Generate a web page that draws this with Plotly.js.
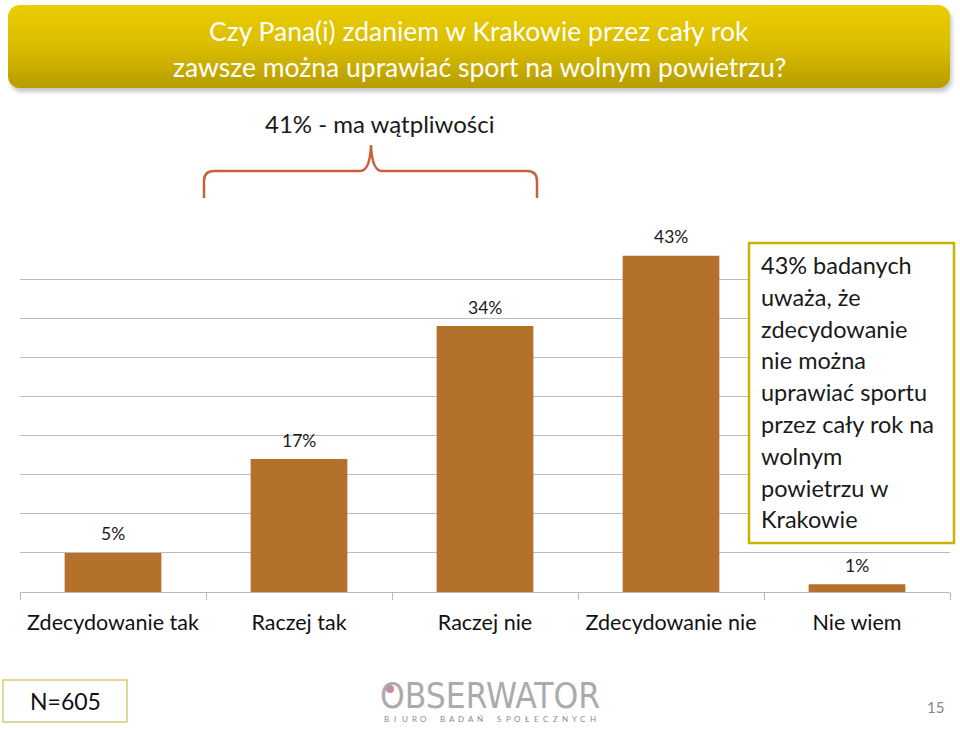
<!DOCTYPE html>
<html>
<head>
<meta charset="utf-8">
<script src="https://cdn.plot.ly/plotly-3.0.1.min.js"></script>
<style>html,body{margin:0;padding:0;background:#fff;}#chart{width:960px;height:729px;}</style>
</head>
<body>
<div id="chart"></div>
<script>
// ---- data ----
const categories = ["Zdecydowanie tak", "Raczej tak", "Raczej nie", "Zdecydowanie nie", "Nie wiem"];
const values = [5, 17, 34, 43, 1];
const valueLabels = ["5%", "17%", "34%", "43%", "1%"];
const titleLines = ["Czy Pana(i) zdaniem w Krakowie przez cały rok", "zawsze można uprawiać sport na wolnym powietrzu?"];
const bracketLabel = "41% - ma wątpliwości";
const noteLines = ["43% badanych", "uważa, że", "zdecydowanie", "nie można", "uprawiać sportu", "przez cały rok na", "wolnym", "powietrzu w", "Krakowie"];
const sampleLabel = "N=605";
const logoText = "OBSERWATOR";
const logoSub = "BIURO BADAŃ SPOŁECZNYCH";
const pageNumber = "15";

// ---- layout geometry (pixels) ----
const W = 960, H = 729;
const L = 20, R = 10, T = 240, B = 137;
const pw = W - L - R, ph = H - T - B;
const X = p => (p - L) / pw;
const Y = p => (H - B - p) / ph;
const F = "Lato, 'Open Sans', sans-serif";

const trace = {
  type: "bar",
  x: categories,
  y: values,
  marker: { color: "#B3712B", line: { width: 0 } },
  hoverinfo: "skip"
};

const annotations = [];
values.forEach((v, i) => {
  annotations.push({ x: categories[i], y: v, xref: "x", yref: "y", text: valueLabels[i], showarrow: false,
    yshift: 19, font: { family: F, size: 17.5, color: "#1a1a1a" } });
});
titleLines.forEach((t, i) => {
  annotations.push({ xref: "paper", yref: "paper", x: X(479), y: Y(31 + i * 36), text: t, showarrow: false,
    xanchor: "center", yanchor: "middle", font: { family: F, size: 26.5, color: "#ffffff" } });
});
annotations.push({ xref: "paper", yref: "paper", x: X(379), y: Y(124), text: bracketLabel, showarrow: false,
  xanchor: "center", yanchor: "middle", font: { family: F, size: 24, color: "#1a1a1a" } });
noteLines.forEach((t, i) => {
  annotations.push({ xref: "paper", yref: "paper", x: X(759), y: Y(265 + i * 31.8), text: t, showarrow: false,
    xanchor: "left", yanchor: "middle", font: { family: F, size: 23.5, color: "#1a1a1a" } });
});
annotations.push({ xref: "paper", yref: "paper", x: X(65), y: Y(701), text: sampleLabel, showarrow: false,
  xanchor: "center", yanchor: "middle", font: { family: F, size: 23, color: "#111" } });
annotations.push({ xref: "paper", yref: "paper", x: X(490), y: Y(696), text: logoText, showarrow: false,
  xanchor: "center", yanchor: "middle", font: { family: "'Liberation Sans Narrow', 'DejaVu Sans Condensed', sans-serif", size: 35, color: "#ababab" } });
// letter-spaced subtitle of the logo, one evenly spaced glyph per slot
const subChars = logoSub.split("");
subChars.forEach((c, i) => {
  if (c === " ") return;
  annotations.push({ xref: "paper", yref: "paper", x: X(386 + i * 9.4), y: Y(719), text: c, showarrow: false,
    xanchor: "center", yanchor: "middle", borderpad: 0, borderwidth: 0,
    font: { family: F, size: 8, color: "#8a8a8a" } });
});
annotations.push({ xref: "paper", yref: "paper", x: X(935), y: Y(707), text: pageNumber, showarrow: false,
  xanchor: "center", yanchor: "middle", font: { family: F, size: 15, color: "#888" } });

const bracketPath = `M${X(204)},${Y(198)} L${X(204)},${Y(181)} Q${X(204)},${Y(171)} ${X(214)},${Y(171)} ` +
  `L${X(360)},${Y(171)} Q${X(370)},${Y(171)} ${X(371)},${Y(145)} Q${X(372)},${Y(171)} ${X(382)},${Y(171)} ` +
  `L${X(527)},${Y(171)} Q${X(537)},${Y(171)} ${X(537)},${Y(181)} L${X(537)},${Y(198)}`;

const shapes = [
  { type: "path", xref: "paper", yref: "paper", path: bracketPath, line: { color: "#C9603C", width: 2.5 } },
  { type: "rect", xref: "paper", yref: "paper", x0: X(749), x1: X(954), y0: Y(243), y1: Y(543), fillcolor: "#ffffff", line: { color: "#C8B400", width: 2.5 }, layer: "above" },
  { type: "rect", xref: "paper", yref: "paper", x0: X(3), x1: X(127), y0: Y(680), y1: Y(722), fillcolor: "rgba(0,0,0,0)", line: { color: "#D6CB78", width: 1.5 } },
  { type: "circle", xref: "paper", yref: "paper", x0: X(386), x1: X(394), y0: Y(685), y1: Y(693), fillcolor: "#C98A9A", line: { width: 0 } }
];

// gradient fill + soft shadow for the title panel (inline SVG, no network)
const gradSvg = `<svg xmlns="http://www.w3.org/2000/svg" width="948" height="90" viewBox="0 0 948 90">` +
  `<defs><linearGradient id="g" x1="0" y1="0" x2="0" y2="1"><stop offset="0" stop-color="#EBCD00"/><stop offset="0.5" stop-color="#DABD00"/><stop offset="1" stop-color="#B69C00"/></linearGradient>` +
  `<filter id="b" x="-5%" y="-20%" width="110%" height="140%"><feGaussianBlur stdDeviation="2"/></filter></defs>` +
  `<rect x="2" y="4" width="942" height="83" rx="12" ry="12" fill="#000" opacity="0.22" filter="url(#b)"/>` +
  `<rect x="0" y="0" width="942" height="83" rx="12" ry="12" fill="url(#g)"/></svg>`;
const gradSrc = "data:image/svg+xml;base64," + btoa(gradSvg);

const layout = {
  width: W, height: H,
  margin: { l: L, r: R, t: T, b: B, pad: 0 },
  paper_bgcolor: "#ffffff", plot_bgcolor: "#ffffff",
  showlegend: false, hovermode: false,
  bargap: 0.48,
  xaxis: {
    type: "category", showgrid: false, showline: true, linecolor: "#b8b8b8", linewidth: 1,
    ticks: "outside", tickson: "boundaries", ticklen: 7, tickcolor: "#b8b8b8",
    tickfont: { family: F, size: 21.5, color: "#111" }, ticklabelstandoff: 11, fixedrange: true
  },
  yaxis: {
    range: [0, 45], dtick: 5, showgrid: true, gridcolor: "#bcbcbc", gridwidth: 1,
    showticklabels: false, zeroline: false, showline: false, ticks: "", fixedrange: true
  },
  images: [{ source: gradSrc, xref: "paper", yref: "paper", x: X(8), y: Y(5), sizex: 948 / pw, sizey: 90 / ph,
    xanchor: "left", yanchor: "top", sizing: "stretch", layer: "below" }],
  annotations: annotations,
  shapes: shapes
};

Plotly.newPlot("chart", [trace], layout, { displayModeBar: false, staticPlot: true });
</script>
</body>
</html>
